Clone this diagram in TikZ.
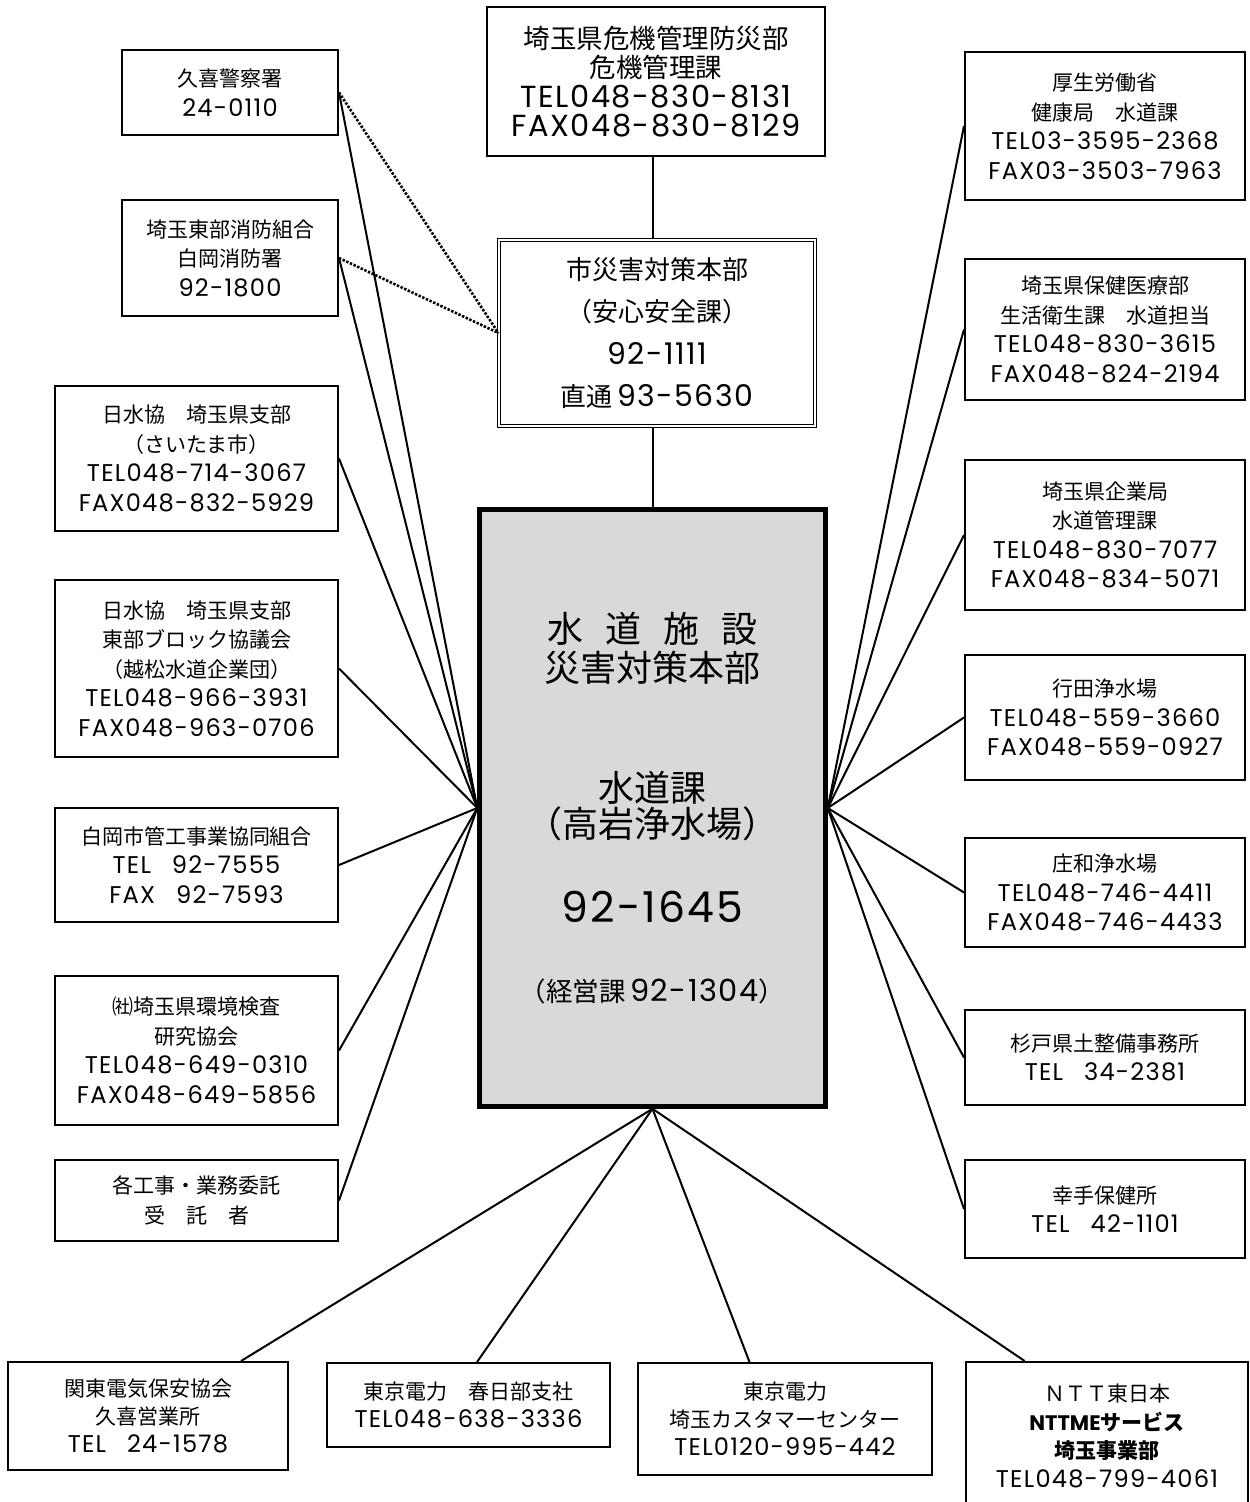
\documentclass[tikz,border=0pt]{standalone}
\usepackage{fontspec}
\setmainfont{Noto Sans CJK JP}
\newfontfamily\latf{Poppins}[Scale=1.15, LetterSpace=5]
\newcommand\nm[1]{{\latf #1}}
\usetikzlibrary{calc}
\definecolor{panel}{HTML}{D9D9D9}

\tikzset{
  card/.style={draw, line width=2pt, fill=white, align=center, inner sep=0pt,
    font=\fontsize{21}{29.5}\selectfont},
  link/.style={line width=2pt},
  dotlink/.style={line width=2.6pt, dash pattern=on 2.4pt off 1.6pt},
  inner/.style={align=center, inner sep=0pt},
}

\begin{document}
\begin{tikzpicture}[x=1pt, y=-1pt]
\useasboundingbox (0,0) rectangle (1250,1502);

% --- upper chain ---------------------------------------------------------
\node[card, minimum width=338pt, minimum height=149pt,
      font=\fontsize{26.5}{29.5}\selectfont] (kiki) at (656,81.5)
  {埼玉県危機管理防災部\\危機管理課\\\nm{TEL048-830-8131}\\\nm{FAX048-830-8129}};

\node[draw, double, double distance=2.6pt, line width=1.1pt, fill=white,
      minimum width=316pt, minimum height=186pt, align=center, inner sep=0pt,
      font=\fontsize{26}{42.5}\selectfont] (city) at (657,333)
  {市災害対策本部\\（安心安全課）\\\nm{92-1111}\\直通\,\nm{93-5630}};

\node[draw, line width=4.5pt, fill=panel, minimum width=346pt,
      minimum height=597pt] (main) at (652.5,808) {};

\node[inner, font=\fontsize{36}{39}\selectfont] (mhead) at (652.5,648)
  {水\hspace{0.62em}道\hspace{0.62em}施\hspace{0.62em}設\\災害対策本部};
\node[inner, font=\fontsize{36}{36}\selectfont] (msec) at (652.5,806)
  {水道課\\（高岩浄水場）};
\node[inner, font=\fontsize{37}{37}\selectfont] (mtel) at (652.5,907)
  {\nm{92-1645}};
\node[inner, font=\fontsize{26.5}{26.5}\selectfont] (macc) at (652.5,991)
  {（経営課\,\nm{92-1304}）};

\draw[link] (kiki.south -| main.north) -- (city.north -| main.north);
\draw[link] (city.south -| main.north) -- (main.north);

% --- left column ---------------------------------------------------------
\node[card, minimum width=216pt, minimum height=85pt] (police) at (230,92.5)
  {久喜警察署\\\nm{24-0110}};
\node[card, minimum width=216pt, minimum height=116pt] (fire) at (230,258)
  {埼玉東部消防組合\\白岡消防署\\\nm{92-1800}};
\node[card, minimum width=283pt, minimum height=145pt] (nissuiA) at (196.5,458.5)
  {日水協　埼玉県支部\\（さいたま市）\\\nm{TEL048-714-3067}\\\nm{FAX048-832-5929}};
\node[card, minimum width=283pt, minimum height=177pt] (nissuiB) at (196.5,668.5)
  {日水協　埼玉県支部\\東部ブロック協議会\\（越松水道企業団）\\\nm{TEL048-966-3931}\\\nm{FAX048-963-0706}};
\node[card, minimum width=283pt, minimum height=114pt] (kankou) at (196.5,865)
  {白岡市管工事業協同組合\\\nm{TEL}　\nm{92-7555}\\\nm{FAX}　\nm{92-7593}};
\node[card, minimum width=283pt, minimum height=149pt] (kankyo) at (196.5,1050.5)
  {㈳埼玉県環境検査\\研究協会\\\nm{TEL048-649-0310}\\\nm{FAX048-649-5856}};
\node[card, minimum width=283pt, minimum height=81pt] (itaku) at (196.5,1200.5)
  {各工事・業務委託\\受　託　者};

\draw[dotlink] (police.east) -- (city.west);
\draw[dotlink] (fire.east) -- (city.west);
\foreach \n in {police,fire,nissuiA,nissuiB,kankou,kankyo,itaku}
  \draw[link] (\n.east) -- (main.west);

% --- right column --------------------------------------------------------
\node[card, minimum width=280pt, minimum height=148pt] (kosei) at (1105,126)
  {厚生労働省\\健康局　水道課\\\nm{TEL03-3595-2368}\\\nm{FAX03-3503-7963}};
\node[card, minimum width=280pt, minimum height=141pt] (hoken) at (1105,329.5)
  {埼玉県保健医療部\\生活衛生課　水道担当\\\nm{TEL048-830-3615}\\\nm{FAX048-824-2194}};
\node[card, minimum width=280pt, minimum height=150pt] (kigyo) at (1105,535)
  {埼玉県企業局\\水道管理課\\\nm{TEL048-830-7077}\\\nm{FAX048-834-5071}};
\node[card, minimum width=280pt, minimum height=125pt] (gyoda) at (1105,717.5)
  {行田浄水場\\\nm{TEL048-559-3660}\\\nm{FAX048-559-0927}};
\node[card, minimum width=280pt, minimum height=109pt] (showa) at (1105,892.5)
  {庄和浄水場\\\nm{TEL048-746-4411}\\\nm{FAX048-746-4433}};
\node[card, minimum width=280pt, minimum height=95pt] (sugito) at (1105,1057.5)
  {杉戸県土整備事務所\\\nm{TEL}　\nm{34-2381}};
\node[card, minimum width=280pt, minimum height=98pt] (satte) at (1105,1209)
  {幸手保健所\\\nm{TEL}　\nm{42-1101}};

\foreach \n in {kosei,hoken,kigyo,gyoda,showa,sugito,satte}
  \draw[link] (\n.west) -- (main.east);

% --- bottom row ----------------------------------------------------------
\node[card, minimum width=280pt, minimum height=108pt,
      font=\fontsize{21}{28}\selectfont] (kanto) at (148,1416)
  {関東電気保安協会\\久喜営業所\\\nm{TEL}　\nm{24-1578}};
\node[card, minimum width=283pt, minimum height=84pt,
      font=\fontsize{21}{28}\selectfont] (kasukabe) at (468.5,1405)
  {東京電力　春日部支社\\\nm{TEL048-638-3336}};
\node[card, minimum width=294pt, minimum height=112pt,
      font=\fontsize{21}{28}\selectfont] (tepco) at (785,1419)
  {東京電力\\埼玉カスタマーセンター\\\nm{TEL0120-995-442}};
\node[card, minimum width=282pt, minimum height=148pt,
      font=\fontsize{21}{28.5}\selectfont] (ntt) at (1107,1436)
  {ＮＴＴ東日本\\\textbf{{\fontspec{Poppins}[Scale=1.0]NTTME}サービス}\\\textbf{埼玉事業部}\\\nm{TEL048-799-4061}};

\draw[link] (main.south) -- ($(kanto.north west)!0.83!(kanto.north east)$);
\draw[link] (main.south) -- ($(kasukabe.north west)!0.53!(kasukabe.north east)$);
\draw[link] (main.south) -- ($(tepco.north west)!0.38!(tepco.north east)$);
\draw[link] (main.south) -- ($(ntt.north west)!0.21!(ntt.north east)$);
\end{tikzpicture}
\end{document}
